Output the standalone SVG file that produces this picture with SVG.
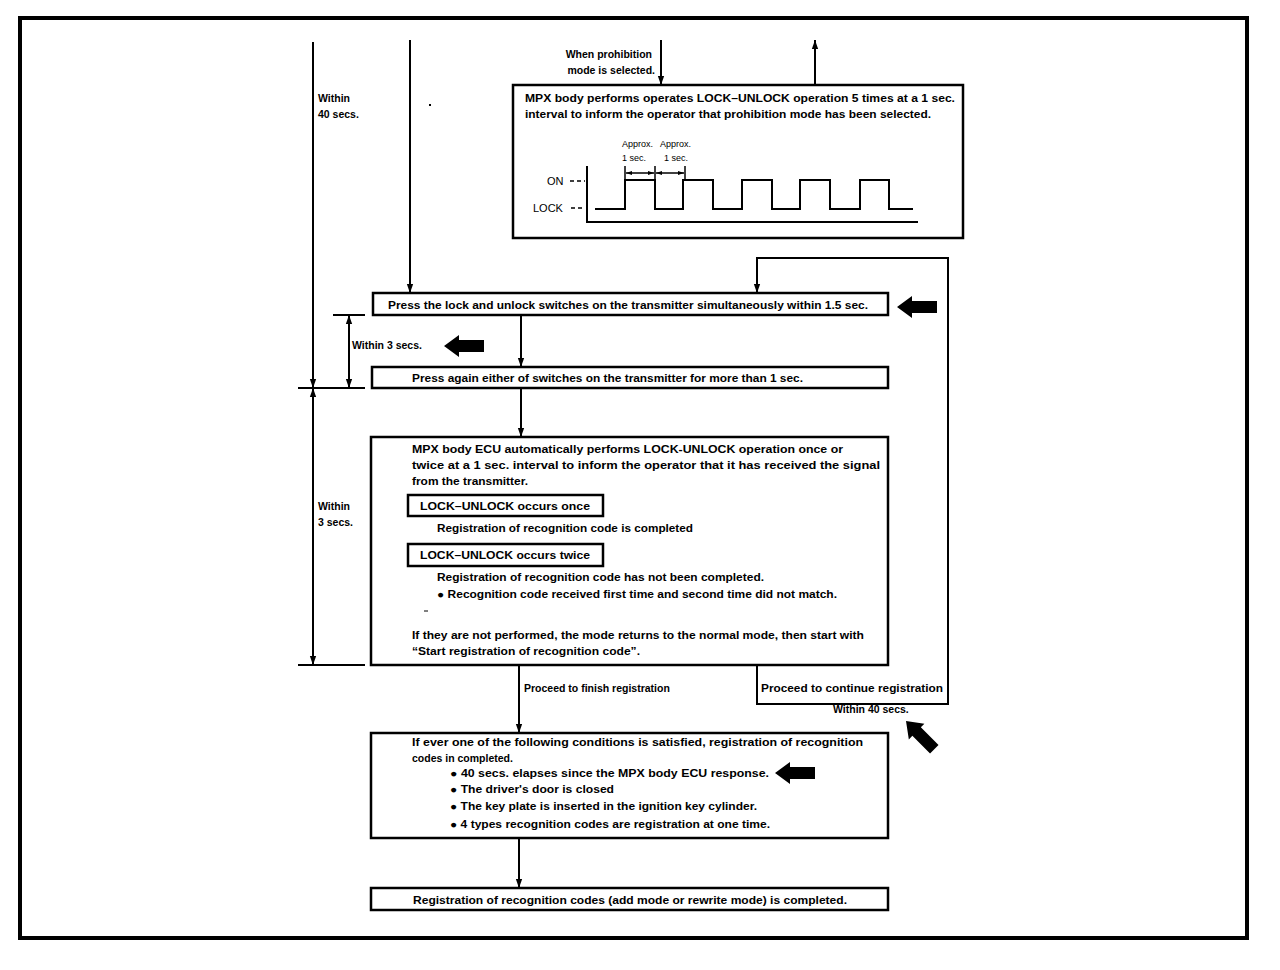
<svg xmlns="http://www.w3.org/2000/svg" width="1280" height="970" viewBox="0 0 1280 970">
<defs>
<style>
text{font-family:"Liberation Sans",Arial,sans-serif;font-size:10.5px;font-weight:bold;fill:#000}
.box{fill:#fff;stroke:#000;stroke-width:2.5}
.ln{fill:none;stroke:#000;stroke-width:2}
.thin{fill:none;stroke:#000;stroke-width:1.5}
</style>
<marker id="ah" viewBox="0 0 10 10" refX="10" refY="5" markerWidth="9" markerHeight="9" markerUnits="userSpaceOnUse" orient="auto-start-reverse">
<path d="M0,1.5 L10,5 L0,8.5 z" fill="#000"/>
</marker>
<marker id="sa" viewBox="0 0 10 10" refX="10" refY="5" markerWidth="6" markerHeight="6" markerUnits="userSpaceOnUse" orient="auto-start-reverse">
<path d="M0,1.5 L10,5 L0,8.5 z" fill="#000"/>
</marker>
<path id="bigarrow" d="M0,0 L15,-11 L15,-6 L40,-6 L40,6 L15,6 L15,11 z"/>
</defs>
<rect x="0" y="0" width="1280" height="970" fill="#fff"/>
<rect x="20" y="18" width="1227" height="920" fill="none" stroke="#000" stroke-width="4"/>

<g id="connectors">
<line class="ln" x1="313" y1="42" x2="313" y2="388" marker-end="url(#ah)"/>
<line class="ln" x1="313" y1="388" x2="313" y2="665" marker-start="url(#ah)" marker-end="url(#ah)"/>
<line class="ln" x1="349" y1="315" x2="349" y2="388" marker-start="url(#ah)" marker-end="url(#ah)"/>
<line class="ln" x1="333" y1="315" x2="365" y2="315"/>
<line class="ln" x1="298" y1="388" x2="365" y2="388"/>
<line class="ln" x1="298" y1="665" x2="365" y2="665"/>
<line class="ln" x1="410" y1="40" x2="410" y2="293" marker-end="url(#ah)"/>
<line class="ln" x1="661" y1="40" x2="661" y2="85" marker-end="url(#ah)"/>
<line class="ln" x1="815" y1="85" x2="815" y2="40" marker-end="url(#ah)"/>
<path class="ln" d="M757,665 V704 H948 V258 H757 V293" marker-end="url(#ah)"/>
<line class="ln" x1="521" y1="315" x2="521" y2="367" marker-end="url(#ah)"/>
<line class="ln" x1="521" y1="388" x2="521" y2="437" marker-end="url(#ah)"/>
<line class="ln" x1="519" y1="665" x2="519" y2="733" marker-end="url(#ah)"/>
<line class="ln" x1="519" y1="838" x2="519" y2="888" marker-end="url(#ah)"/>
</g>

<g id="labels">
<text x="318" y="102">Within</text>
<text x="318" y="118">40 secs.</text>
<rect x="429" y="104" width="2" height="2" fill="#000"/>
<text x="652" y="58" text-anchor="end">When prohibition</text>
<text x="655" y="74" text-anchor="end">mode is selected.</text>
<text x="352" y="349">Within 3 secs.</text>
<text x="318" y="510">Within</text>
<text x="318" y="526">3 secs.</text>
<text x="524" y="692">Proceed to finish registration</text>
<text x="761" y="692" textLength="182" lengthAdjust="spacingAndGlyphs">Proceed to continue registration</text>
<text x="833" y="713">Within 40 secs.</text>
</g>

<g id="n_prohibit">
<rect class="box" x="513" y="85" width="450" height="153"/>
<text x="525" y="102" textLength="430" lengthAdjust="spacingAndGlyphs">MPX body performs operates LOCK–UNLOCK operation 5 times at a 1 sec.</text>
<text x="525" y="118" textLength="406" lengthAdjust="spacingAndGlyphs">interval to inform the operator that prohibition mode has been selected.</text>
<text x="622" y="147" style="font-size:9px;font-weight:normal">Approx.</text>
<text x="622" y="161" style="font-size:9px;font-weight:normal">1 sec.</text>
<text x="660" y="147" style="font-size:9px;font-weight:normal">Approx.</text>
<text x="664" y="161" style="font-size:9px;font-weight:normal">1 sec.</text>
<text x="547" y="185" style="font-weight:normal;font-size:11px">ON</text>
<text x="533" y="212" style="font-weight:normal;font-size:11px">LOCK</text>
<line class="thin" x1="570" y1="181" x2="585" y2="181" stroke-dasharray="4,3"/>
<line class="thin" x1="571" y1="208" x2="585" y2="208" stroke-dasharray="4,3"/>
<polyline class="ln" points="587,166 587,222 918,222"/>
<polyline class="ln" points="595,209 625,209 625,180 655,180 655,209 683,209 683,180 713,180 713,209 742,209 742,180 772,180 772,209 800,209 800,180 830,180 830,209 860,209 860,180 889,180 889,209 913,209"/>
<line class="thin" x1="625" y1="166" x2="625" y2="180"/>
<line class="thin" x1="655" y1="166" x2="655" y2="180"/>
<line class="thin" x1="685" y1="166" x2="685" y2="180"/>
<line class="thin" x1="626" y1="173" x2="654" y2="173" marker-start="url(#sa)" marker-end="url(#sa)"/>
<line class="thin" x1="656" y1="173" x2="684" y2="173" marker-start="url(#sa)" marker-end="url(#sa)"/>
</g>

<g id="n_press1">
<rect class="box" x="373" y="293" width="515" height="22"/>
<text x="628" y="309" text-anchor="middle" textLength="480" lengthAdjust="spacingAndGlyphs">Press the lock and unlock switches on the transmitter simultaneously within 1.5 sec.</text>
</g>

<g id="n_press2">
<rect class="box" x="372" y="367" width="516" height="21"/>
<text x="412" y="382" textLength="391" lengthAdjust="spacingAndGlyphs">Press again either of switches on the transmitter for more than 1 sec.</text>
</g>

<g id="n_ecu">
<rect class="box" x="371" y="437" width="517" height="228"/>
<text x="412" y="453" textLength="431" lengthAdjust="spacingAndGlyphs">MPX body ECU automatically performs LOCK-UNLOCK operation once or</text>
<text x="412" y="469" textLength="468" lengthAdjust="spacingAndGlyphs">twice at a 1 sec. interval to inform the operator that it has received the signal</text>
<text x="412" y="485" textLength="116" lengthAdjust="spacingAndGlyphs">from the transmitter.</text>
<rect class="box" x="408" y="495" width="195" height="21"/>
<text x="420" y="510" textLength="170" lengthAdjust="spacingAndGlyphs">LOCK–UNLOCK occurs once</text>
<text x="437" y="532" textLength="256" lengthAdjust="spacingAndGlyphs">Registration of recognition code is completed</text>
<rect class="box" x="408" y="544" width="195" height="22"/>
<text x="420" y="559" textLength="170" lengthAdjust="spacingAndGlyphs">LOCK–UNLOCK occurs twice</text>
<text x="437" y="581" textLength="327" lengthAdjust="spacingAndGlyphs">Registration of recognition code has not been completed.</text>
<text x="437" y="598" textLength="400" lengthAdjust="spacingAndGlyphs">● Recognition code received first time and second time did not match.</text>
<line x1="424" y1="611" x2="428" y2="611" stroke="#000" stroke-width="1"/>
<text x="412" y="639" textLength="452" lengthAdjust="spacingAndGlyphs">If they are not performed, the mode returns to the normal mode, then start with</text>
<text x="412" y="655" textLength="228" lengthAdjust="spacingAndGlyphs">“Start registration of recognition code”.</text>
</g>

<g id="n_finish">
<rect class="box" x="371" y="733" width="517" height="105"/>
<text x="412" y="746" textLength="451" lengthAdjust="spacingAndGlyphs">If ever one of the following conditions is satisfied, registration of recognition</text>
<text x="412" y="762">codes in completed.</text>
<text x="450" y="777" textLength="319" lengthAdjust="spacingAndGlyphs">● 40 secs. elapses since the MPX body ECU response.</text>
<text x="450" y="793" textLength="164" lengthAdjust="spacingAndGlyphs">● The driver's door is closed</text>
<text x="450" y="810" textLength="307" lengthAdjust="spacingAndGlyphs">● The key plate is inserted in the ignition key cylinder.</text>
<text x="450" y="828" textLength="320" lengthAdjust="spacingAndGlyphs">● 4 types recognition codes are registration at one time.</text>
</g>

<g id="n_done">
<rect class="box" x="371" y="888" width="517" height="22"/>
<text x="630" y="904" text-anchor="middle" textLength="434" lengthAdjust="spacingAndGlyphs">Registration of recognition codes (add mode or rewrite mode) is completed.</text>
</g>

<g id="pointers">
<use href="#bigarrow" transform="translate(897,307)"/>
<use href="#bigarrow" transform="translate(444,346)"/>
<use href="#bigarrow" transform="translate(775,773)"/>
<use href="#bigarrow" transform="translate(906,721) rotate(45)"/>
</g>
</svg>
